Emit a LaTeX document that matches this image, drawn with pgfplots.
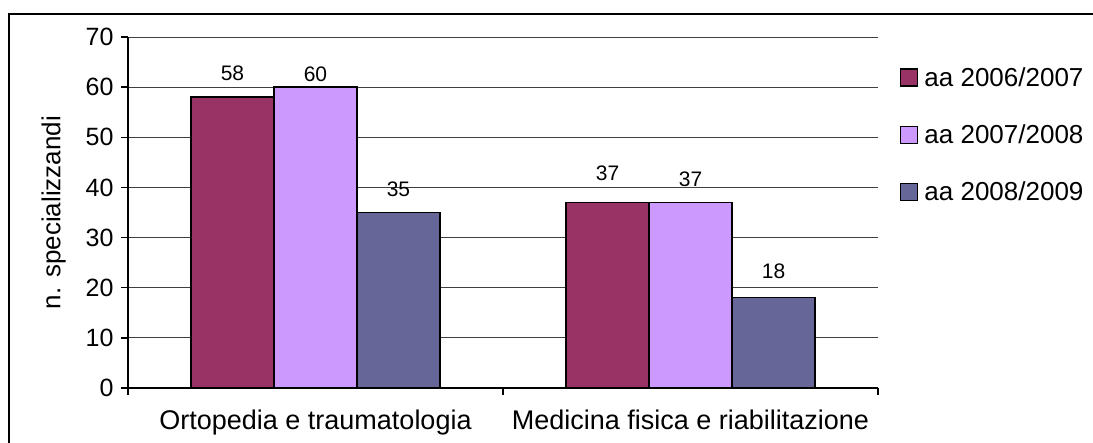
\documentclass[border=0pt]{standalone}
\usepackage{pgfplots}
\pgfplotsset{compat=1.18}
\usepackage{pgfplotstable}
\usepackage{fontspec}
\setmainfont{Liberation Sans}
\definecolor{cA}{HTML}{993366}
\definecolor{cB}{HTML}{CC99FF}
\definecolor{cC}{HTML}{666699}

\pgfplotstableread{
x y off
0 58 16
1 37 21
}\tA
\pgfplotstableread{
x y off
0 60 5
1 37 15
}\tB
\pgfplotstableread{
x y off
0 35 15
1 18 18
}\tC

\begin{document}
\begin{tikzpicture}[x=1pt,y=1pt]
\useasboundingbox (0,0) rectangle (1093,443);
\draw[line width=2pt] (9,-20) -- (9,429) -- (1120,429);
\begin{axis}[
  at={(128pt,55pt)}, anchor=south west,
  scale only axis, width=750pt, height=351pt,
  xmin=-0.5, xmax=1.5, ymin=0, ymax=70,
  ybar=0pt, bar width=83pt,
  axis x line*=bottom, axis y line*=left,
  axis line style={-, line width=1.5pt, black},
  ymajorgrids, grid style={black!75, line width=0.9pt},
  ytick={0,10,...,70},
  xtick={-0.5,0.5,1.5}, xticklabels={},
  extra x ticks={0,1},
  extra x tick labels={Ortopedia e traumatologia, Medicina fisica e riabilitazione},
  extra x tick style={major tick length=0pt, grid=none, xticklabel style={yshift=-18pt}},
  tick align=outside, major tick length=7pt,
  tick style={black, line width=1.5pt},
  /pgf/number format/assume math mode=true,
  yticklabel style={font=\fontsize{25}{30}\selectfont, xshift=-4pt},
  xticklabel style={font=\fontsize{27}{32}\selectfont},
  ylabel={n. specializzandi},
  ylabel style={at={(axis description cs:-0.099,0.5)}, anchor=center, font=\fontsize{26}{30}\selectfont},
  nodes near coords,
  every node near coord/.append style={font=\fontsize{21}{25}\selectfont, black, anchor=south, inner sep=0pt, yshift=\myoff pt},
  visualization depends on={\thisrow{off} \as \myoff},
  legend image code/.code={\draw[#1, line width=1.5pt] (0pt,-8.5pt) rectangle (17pt,8.5pt);},
  legend style={at={(axis description cs:1.029,0.92)}, anchor=north west, draw=none, fill=none,
    font=\fontsize{26}{30}\selectfont, row sep=33pt, inner sep=0pt,
    nodes={inner sep=2pt},
    /tikz/every odd column/.style={column sep=4pt}},
  legend cell align=left,
]
\addplot[fill=cA, draw=black, line width=1.5pt] table[x=x,y=y]{\tA};
\addplot[fill=cB, draw=black, line width=1.5pt] table[x=x,y=y]{\tB};
\addplot[fill=cC, draw=black, line width=1.5pt] table[x=x,y=y]{\tC};
\legend{aa 2006/2007, aa 2007/2008, aa 2008/2009}
\end{axis}
\end{tikzpicture}
\end{document}
